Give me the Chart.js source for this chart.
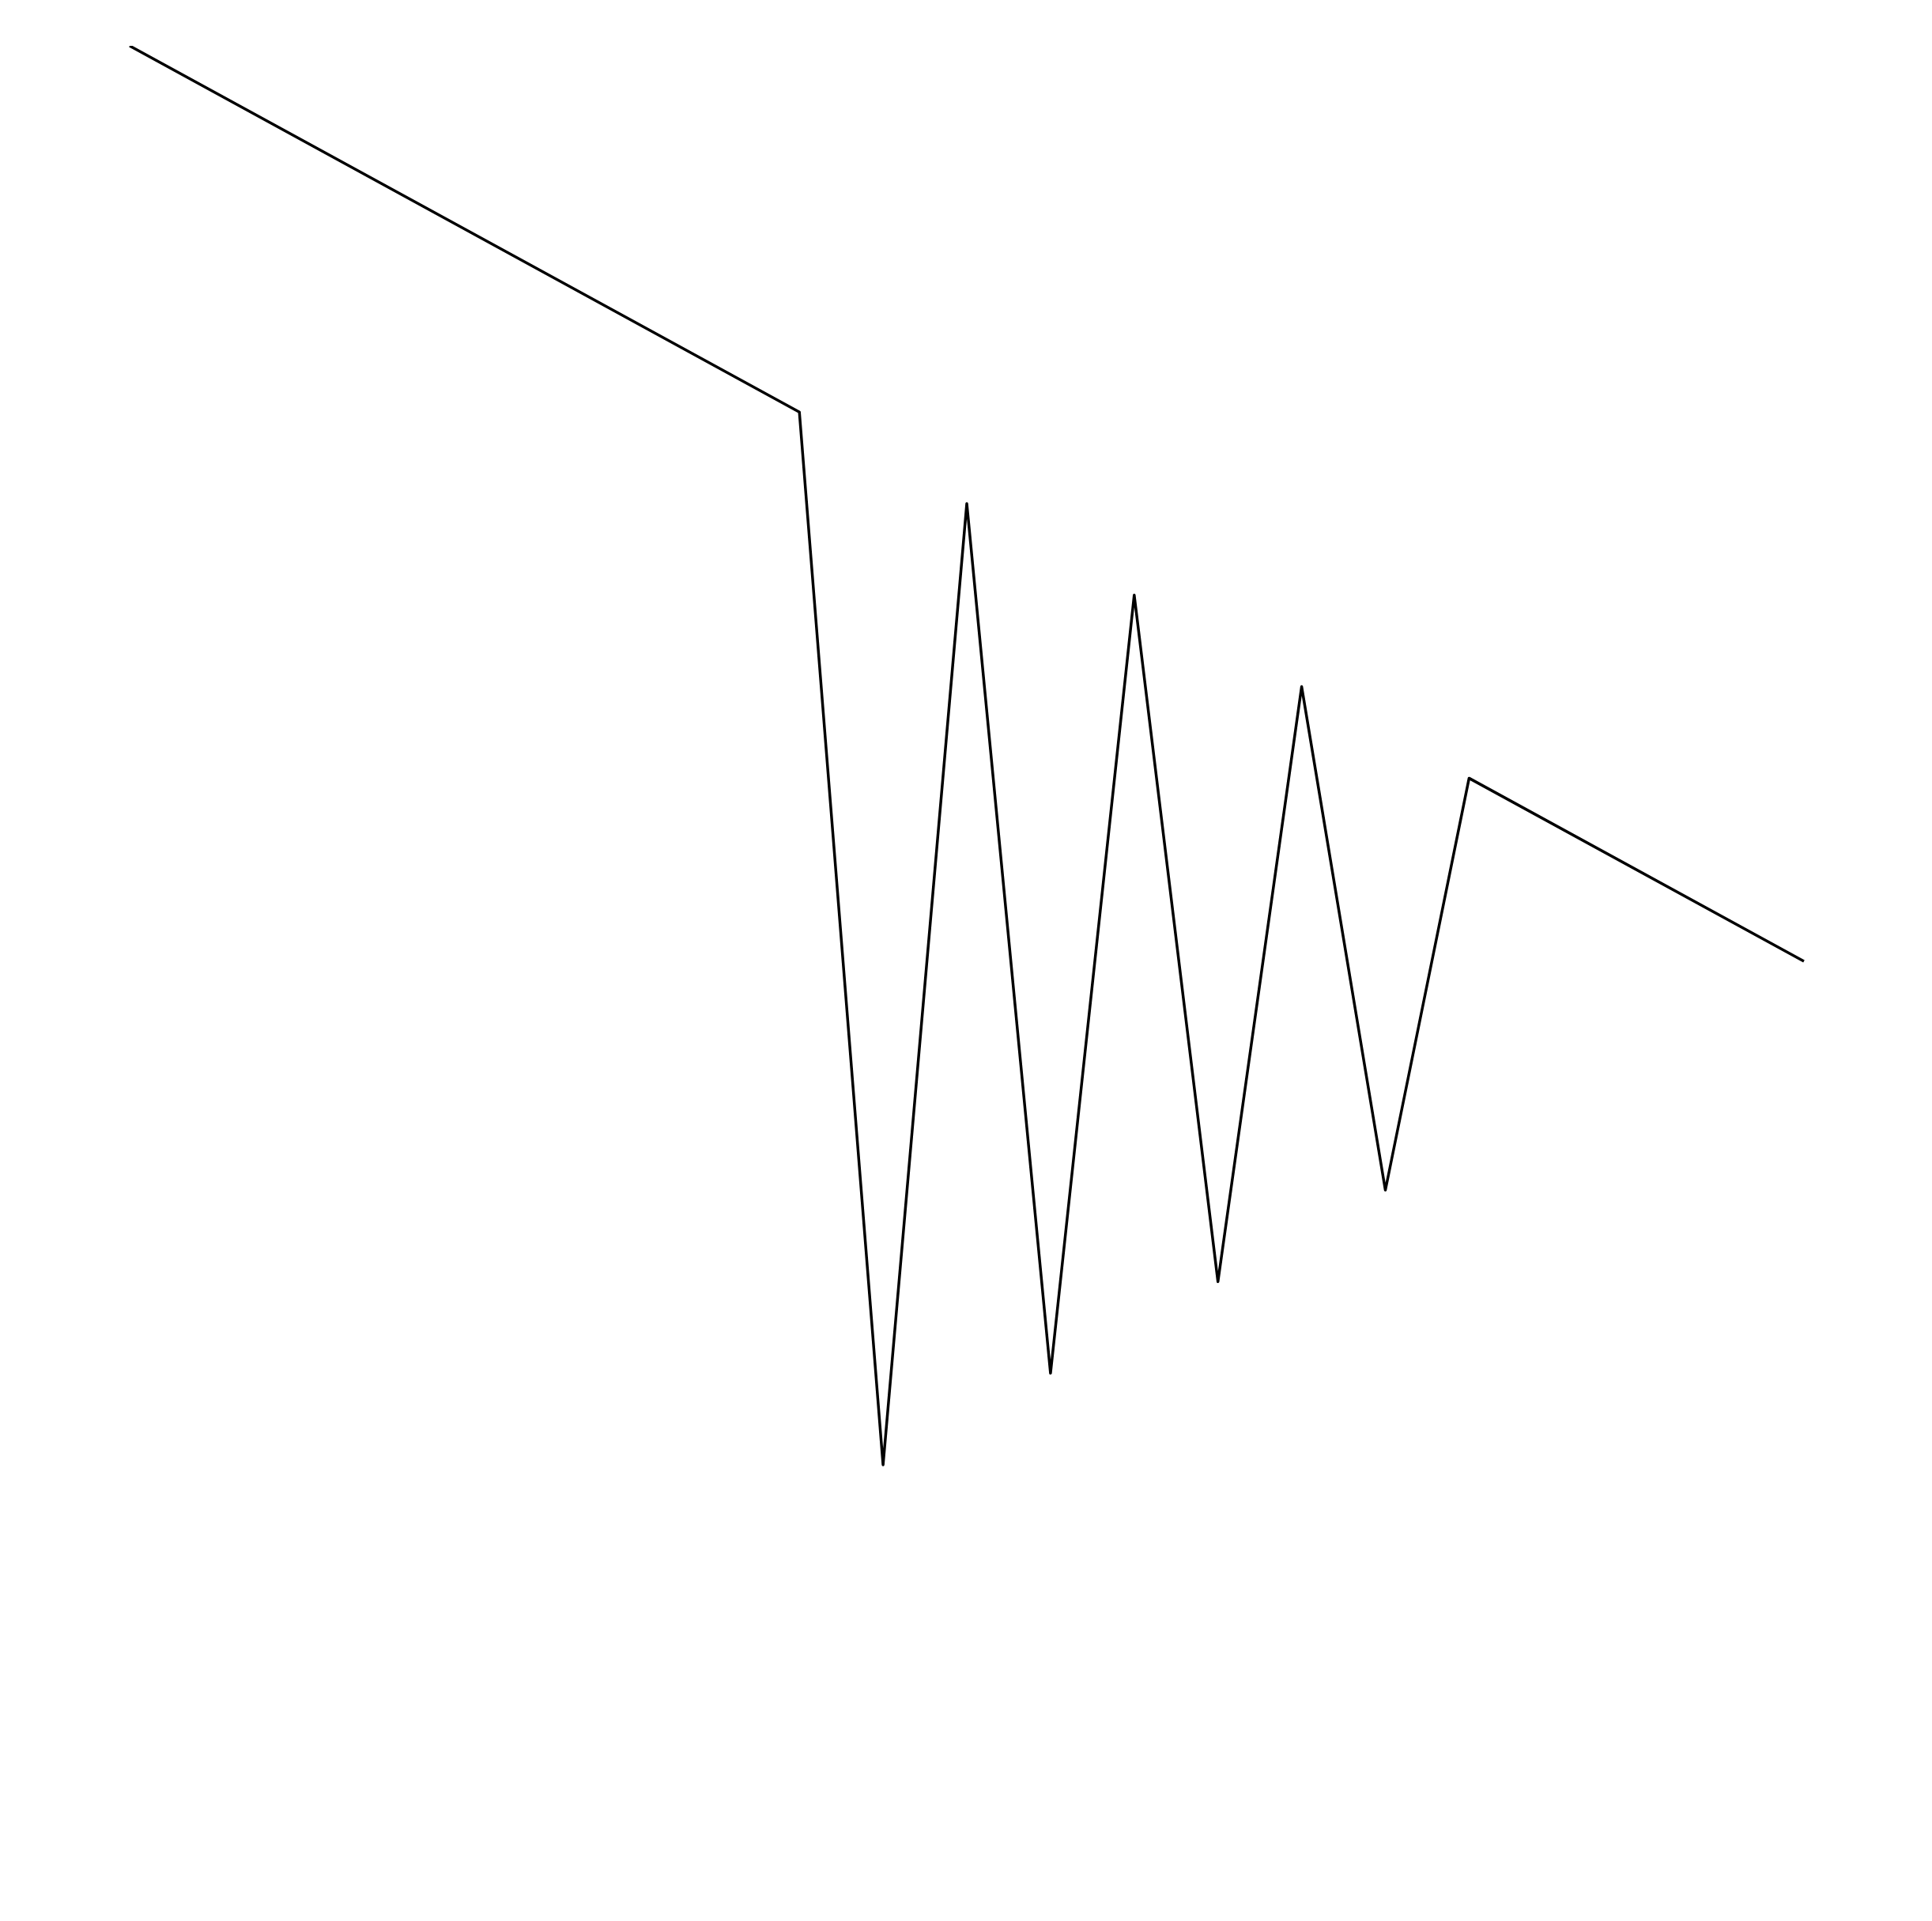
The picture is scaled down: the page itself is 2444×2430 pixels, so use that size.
<!DOCTYPE html>
<html>
<head>
<meta charset="utf-8">
<script src="https://cdn.jsdelivr.net/npm/chart.js@4/dist/chart.umd.min.js"></script>
<style>
  html, body { margin: 0; padding: 0; background: #ffffff; }
  #wrap { width: 2444px; height: 2430px; position: relative; }
</style>
</head>
<body>
<div id="wrap"><canvas id="c"></canvas></div>
<script>
// Data
const xValues = [0, 8, 9, 10, 11, 12, 13, 14, 15, 16, 20];
const yValues = [0, -8, -31, -10, -29, -12, -27, -14, -25, -16, -20];
const yMin = -40;
const yMax = 0;

const points = xValues.map((x, i) => ({ x: x, y: yValues[i] }));

new Chart(document.getElementById('c'), {
  type: 'line',
  data: {
    datasets: [{
      data: points,
      borderColor: '#000000',
      borderWidth: 3.5,
      borderJoinStyle: 'round',
      borderCapStyle: 'butt',
      pointRadius: 0,
      pointHoverRadius: 0,
      fill: false,
      tension: 0
    }]
  },
  options: {
    responsive: true,
    maintainAspectRatio: false,
    devicePixelRatio: 1,
    animation: false,
    events: [],
    layout: { padding: { left: 164, right: 162, top: 58, bottom: 56 } },
    plugins: { legend: { display: false }, tooltip: { enabled: false }, title: { display: false } },
    scales: {
      x: { type: 'linear', display: false },
      y: { type: 'linear', display: false, min: yMin, max: yMax }
    }
  }
});
</script>
</body>
</html>
